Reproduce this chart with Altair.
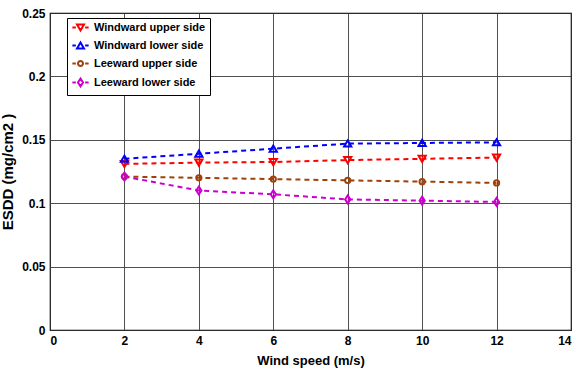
import altair as alt
import pandas as pd

speeds = [2, 4, 6, 8, 10, 12]
windward_upper = [0.131, 0.132, 0.1325, 0.134, 0.135, 0.136]
windward_lower = [0.135, 0.139, 0.143, 0.147, 0.1475, 0.148]
leeward_upper = [0.121, 0.120, 0.119, 0.118, 0.117, 0.116]
leeward_lower = [0.121, 0.110, 0.107, 0.103, 0.102, 0.101]

series_names = ["Windward upper side", "Windward lower side",
                "Leeward upper side", "Leeward lower side"]
series_vals = [windward_upper, windward_lower, leeward_upper, leeward_lower]
colors = ["#FF0000", "#0000FF", "#A0400A", "#CC00CC"]

tri_down = "M-0.9,-0.75L0.9,-0.75L0,0.8Z"
tri_up = "M-0.9,0.75L0.9,0.75L0,-0.8Z"
circ = "M0.65,0A0.65,0.65,0,1,1,-0.65,0A0.65,0.65,0,1,1,0.65,0Z"
diam = "M0,-1L0.65,0L0,1L-0.65,0Z"
shapes = [tri_down, tri_up, circ, diam]
# legend glyphs: short dash, marker, short dash
dash = "M-2.1,0H-1.2M1.2,0H2.1"
legend_shapes = [dash + s for s in shapes]

rows = []
for name, vals in zip(series_names, series_vals):
    for s, v in zip(speeds, vals):
        rows.append({"speed": s, "esdd": v, "series": name})
df = pd.DataFrame(rows)

FONT = "Liberation Sans"

x = alt.X("speed:Q", scale=alt.Scale(domain=[0, 14], nice=False),
          axis=alt.Axis(values=list(range(0, 15, 2)), title="Wind speed (m/s)"))
y = alt.Y("esdd:Q", scale=alt.Scale(domain=[0, 0.25], nice=False),
          axis=alt.Axis(values=[0, 0.05, 0.1, 0.15, 0.2, 0.25], title="ESDD (mg/cm2 )",
                        titleFontSize=15,
                        labelExpr="datum.value == 0 ? '0' : format(datum.value, '.3~f')"))
legend = alt.Legend(title=None, orient="none", legendX=17, legendY=5,
                    fillColor="white", strokeColor="black",
                    padding=4, rowPadding=3, symbolStrokeWidth=2,
                    symbolOffset=4, labelOffset=8,
                    labelFont=FONT, labelFontSize=11, labelFontWeight="bold",
                    labelColor="black", symbolSize=60)
cscale = alt.Scale(domain=series_names, range=colors)

lines = alt.Chart(df).mark_line(strokeDash=[5, 4], strokeWidth=2).encode(
    x=x, y=y, color=alt.Color("series:N", scale=cscale, legend=None), detail="series:N")
points = alt.Chart(df).mark_point(filled=False, strokeWidth=2, size=64, opacity=1).encode(
    x=x, y=y, color=alt.Color("series:N", scale=cscale, legend=None),
    shape=alt.Shape("series:N", scale=alt.Scale(domain=series_names, range=shapes),
                    legend=None))
legend_layer = alt.Chart(df).transform_filter("false").mark_point(
    filled=False, strokeWidth=2, size=60, opacity=1).encode(
    x=x, y=y,
    color=alt.Color("series:N", scale=cscale, legend=legend),
    shape=alt.Shape("series:N", scale=alt.Scale(domain=series_names, range=legend_shapes),
                    legend=legend))

chart = alt.layer(lines, points, legend_layer).resolve_scale(
    color="independent", shape="independent"
).properties(
    width=521, height=317,
    autosize=alt.AutoSizeParams(type="none"),
    padding={"left": 50, "top": 13, "right": 5, "bottom": 43},
).configure_view(stroke="black", strokeWidth=1.2).configure_axis(
    grid=True, gridColor="#333333", gridOpacity=0.85, gridWidth=1,
    domain=False, ticks=False,
    labelFont=FONT, labelFontSize=12, labelFontWeight="bold", labelColor="black",
    titleFont=FONT, titleFontSize=13, titleFontWeight="bold", titleColor="black",
    labelPadding=5,
).configure_axisX(titlePadding=8).configure_axisY(titlePadding=6)

chart.save("out.html", embed_options={"renderer": "svg", "actions": False})
